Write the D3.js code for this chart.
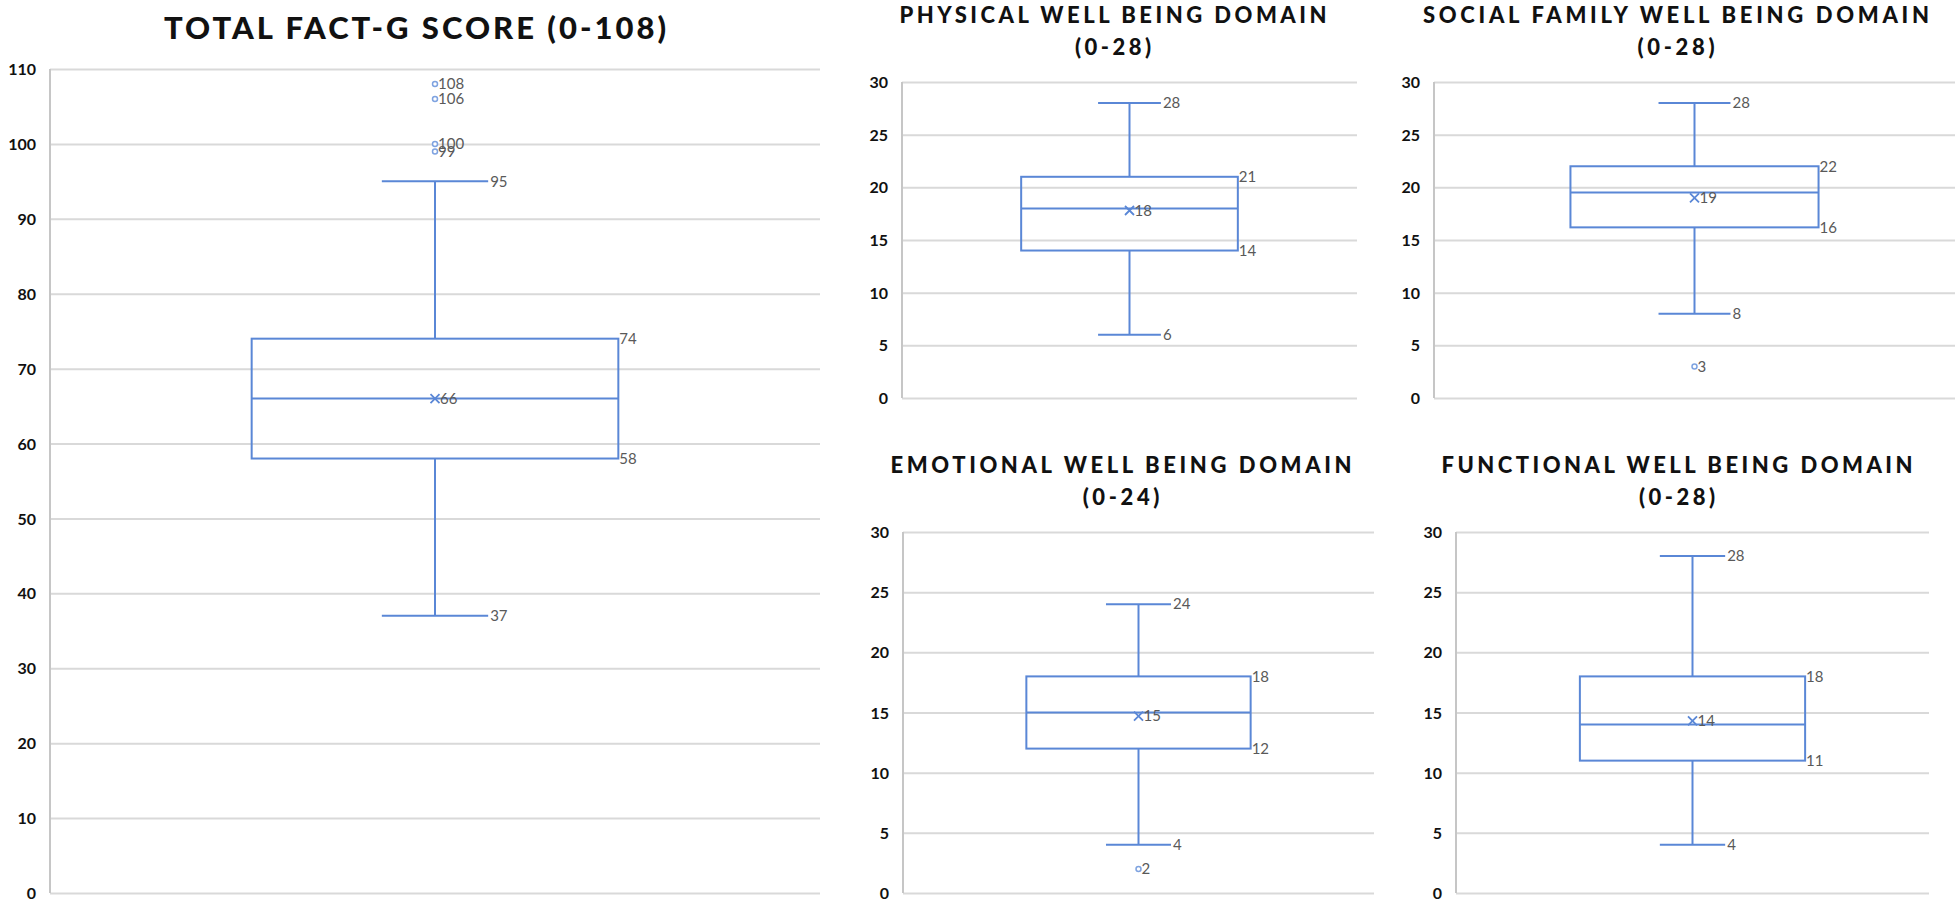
<!DOCTYPE html>
<html><head><meta charset="utf-8">
<script src="https://cdn.jsdelivr.net/npm/d3@7"></script>
<style>body{margin:0;background:#fff}svg{display:block}</style>
</head><body><svg id="chart" width="1960" height="908"></svg>
<script>
// ---- data ----
const domains = ["Total FACT-G", "Physical", "Social Family", "Emotional", "Functional"];
const titleLine1 = ["TOTAL FACT-G SCORE (0-108)", "PHYSICAL WELL BEING DOMAIN", "SOCIAL FAMILY WELL BEING DOMAIN", "EMOTIONAL WELL BEING DOMAIN", "FUNCTIONAL WELL BEING DOMAIN"];
const titleLine2 = ["", "(0-28)", "(0-28)", "(0-24)", "(0-28)"];
const minima = [37, 6, 8, 4, 4];
const lowerQuartiles = [58, 14, 16.2, 12, 11];
const medians = [66, 18, 19.5, 15, 14];
const upperQuartiles = [74, 21, 22, 18, 18];
const maxima = [95, 28, 28, 24, 28];
const means = [66, 17.8, 19, 14.7, 14.3];
const outliers = [[108, 106, 100, 99], [], [3], [2], []];
const axisMax = [110, 30, 30, 30, 30];
const tickLabels = [
  [0, 10, 20, 30, 40, 50, 60, 70, 80, 90, 100, 110],
  [0, 5, 10, 15, 20, 25, 30],
  [0, 5, 10, 15, 20, 25, 30],
  [0, 5, 10, 15, 20, 25, 30],
  [0, 5, 10, 15, 20, 25, 30]
];

// ---- layout ----
const layout = [
  {x0: 50,   x1: 820,  yTop: 69, yBot: 893, tx: 415,  ty: 39,  tw: 502, fs: 31},
  {x0: 902,  x1: 1357, yTop: 82, yBot: 398, tx: 1113, ty: 23,  tw: 427, fs: 22},
  {x0: 1434, x1: 1955, yTop: 82, yBot: 398, tx: 1676, ty: 23,  tw: 506, fs: 22},
  {x0: 903,  x1: 1374, yTop: 532, yBot: 893, tx: 1121, ty: 473, tw: 461, fs: 22},
  {x0: 1456, x1: 1929, yTop: 532, yBot: 893, tx: 1677, ty: 473, tw: 471, fs: 22}
];

const BLUE = "#5a87d6";
const OUT = "#7fa3e0";
const GRID = "#d9d9d9";
const LABEL = "#595959";
const fmt = d3.format(".0f");

const svg = d3.select("#chart");

domains.forEach((name, i) => {
  const L = layout[i];
  const g = svg.append("g");
  const y = d3.scaleLinear().domain([0, axisMax[i]]).range([L.yBot, L.yTop]);
  const x = d3.scaleBand().domain([name]).range([L.x0, L.x1]).paddingInner(0).paddingOuter(0.55);

  // gridlines + tick labels
  const ax = g.append("g").attr("transform", `translate(${L.x0},0)`)
    .call(d3.axisLeft(y).tickValues(tickLabels[i]).tickSize(-(L.x1 - L.x0)).tickPadding(14).tickFormat(d3.format("d")));
  ax.select(".domain").remove();
  ax.selectAll(".tick line").attr("stroke", GRID).attr("stroke-width", 2);
  ax.selectAll(".tick text").attr("fill", "#111").attr("font-family", "Lato, 'Open Sans', sans-serif")
    .attr("font-weight", "bold").attr("font-size", 16).attr("dy", "0.35em");

  // vertical axis line
  g.append("line").attr("x1", L.x0).attr("x2", L.x0).attr("y1", L.yTop).attr("y2", L.yBot)
    .attr("stroke", "#c6c6c6").attr("stroke-width", 2);

  // title
  const t1 = g.append("text").attr("x", L.tx).attr("y", L.ty).attr("text-anchor", "middle")
    .attr("font-family", "Lato, 'Open Sans', sans-serif").attr("font-weight", "900")
    .attr("font-size", L.fs).attr("fill", "#111").text(titleLine1[i]);
  const natural = t1.node().getComputedTextLength();
  const n = titleLine1[i].length;
  const ls = (L.tw - natural) / (n - 1);
  t1.attr("textLength", L.tw).attr("lengthAdjust", "spacing");
  if (titleLine2[i]) {
    g.append("text").attr("x", L.tx + ls / 2).attr("y", L.ty + 32).attr("text-anchor", "middle")
      .attr("font-family", "Lato, 'Open Sans', sans-serif").attr("font-weight", "900")
      .attr("font-size", L.fs).attr("letter-spacing", ls).attr("fill", "#111").text(titleLine2[i]);
  }

  // box plot
  const cx = x(name) + x.bandwidth() / 2;
  const bl = x(name), br = x(name) + x.bandwidth();
  const capHalf = x.bandwidth() * 0.145;
  const lineAttr = sel => sel.attr("stroke", BLUE).attr("stroke-width", 2).attr("fill", "none");

  // whiskers
  g.append("line").attr("x1", cx).attr("x2", cx).attr("y1", y(upperQuartiles[i])).attr("y2", y(maxima[i])).call(lineAttr);
  g.append("line").attr("x1", cx).attr("x2", cx).attr("y1", y(lowerQuartiles[i])).attr("y2", y(minima[i])).call(lineAttr);
  g.append("line").attr("x1", cx - capHalf).attr("x2", cx + capHalf).attr("y1", y(maxima[i])).attr("y2", y(maxima[i])).call(lineAttr);
  g.append("line").attr("x1", cx - capHalf).attr("x2", cx + capHalf).attr("y1", y(minima[i])).attr("y2", y(minima[i])).call(lineAttr);
  // box
  g.append("rect").attr("x", bl).attr("width", br - bl)
    .attr("y", y(upperQuartiles[i])).attr("height", y(lowerQuartiles[i]) - y(upperQuartiles[i])).call(lineAttr);
  // median
  g.append("line").attr("x1", bl).attr("x2", br).attr("y1", y(medians[i])).attr("y2", y(medians[i])).call(lineAttr);
  // mean X
  const my = y(means[i]), s = 4.5;
  g.append("path").attr("d", `M${cx - s},${my - s}L${cx + s},${my + s}M${cx - s},${my + s}L${cx + s},${my - s}`)
    .attr("stroke", BLUE).attr("stroke-width", 1.8);
  // outliers
  g.selectAll("circle.o").data(outliers[i]).join("circle").attr("class", "o")
    .attr("cx", cx).attr("cy", d => y(d)).attr("r", 2.5)
    .attr("fill", "#fff").attr("stroke", OUT).attr("stroke-width", 1.5);

  // data labels
  const lab = (xx, v) => g.append("text").attr("x", xx).attr("y", y(v)).attr("dy", "0.35em")
    .attr("font-family", "Lato, 'Open Sans', sans-serif").attr("font-size", 15).attr("fill", LABEL).text(fmt(v));
  lab(cx + capHalf + 2, maxima[i]);
  lab(cx + capHalf + 2, minima[i]);
  lab(br + 1, upperQuartiles[i]);
  lab(br + 1, lowerQuartiles[i]);
  lab(cx + 5, means[i]);
  outliers[i].forEach(v => lab(cx + 3, v));
});
</script>
</body></html>
